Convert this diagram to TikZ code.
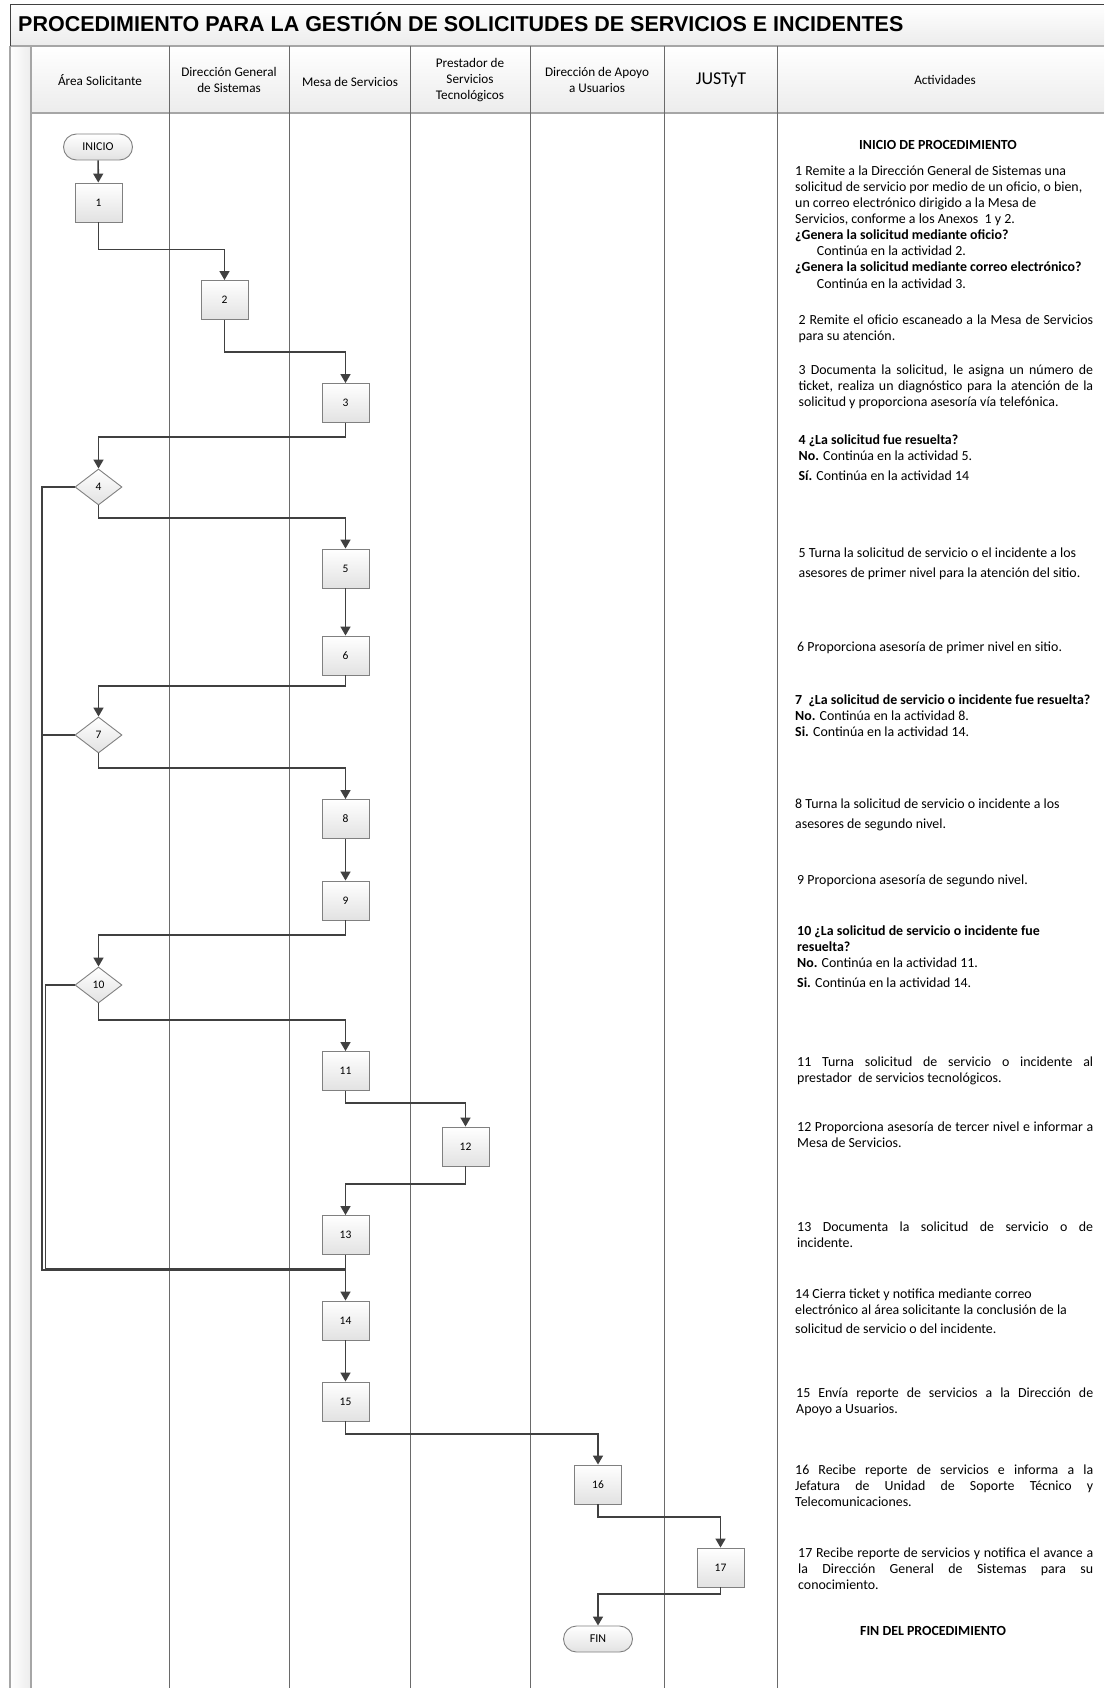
\documentclass[tikz,border=0pt]{standalone}
\usepackage{fontspec}
\setmainfont{Carlito}
\newfontfamily\titlefont{Liberation Sans}
\usetikzlibrary{arrows.meta,shapes.geometric}
\definecolor{conn}{HTML}{404040}
\definecolor{lanec}{HTML}{6A6A6A}
\definecolor{shapeb}{HTML}{808080}
\definecolor{shadeb}{HTML}{E2E2E2}
\definecolor{bandb}{HTML}{ECECEC}
\definecolor{edgeg}{HTML}{A6A6A6}
\newcommand\actline[4]{\node[actl] (#1) at (#2,#3) {#4};}
\newcommand\jline[5]{\node[actl] (#1) at (#2,#3) {\makebox[#4pt][s]{#5}};}
\begin{document}
\begin{tikzpicture}[x=1pt,y=-1pt,
  lane/.style={draw=lanec, line width=0.8pt},
  flow/.style={draw=conn, line width=1.6pt, -{Triangle[length=9pt,width=10pt]}},
  link/.style={draw=conn, line width=1.6pt},
  shapefill/.style={draw=shapeb, line width=0.9pt, top color=white, bottom color=shadeb},
  actbox/.style={rectangle, shapefill, minimum width=47pt, minimum height=39pt, inner sep=0pt, font=\fontsize{11.5}{12}\selectfont},
  decision/.style={diamond, shapefill, minimum width=47pt, minimum height=36pt, inner sep=0pt, font=\fontsize{11.5}{12}\selectfont},
  terminal/.style={rectangle, rounded corners=13pt, shapefill, minimum width=69pt, minimum height=26pt, inner sep=0pt, font=\fontsize{12}{13}\selectfont},
  actl/.style={anchor=base west, inner sep=0pt, font=\fontsize{13.9}{16}\selectfont},
  hdr/.style={align=center, inner sep=0pt, font=\fontsize{13.2}{16}\selectfont}
]
\useasboundingbox (0,0) rectangle (1104,1688);
\fill[white] (0,0) rectangle (1104,1688);
% title band
\path[top color=white, bottom color=bandb] (10,4.5) rectangle (1104,46);
% header band
\path[top color=white, bottom color=bandb] (31,46) rectangle (1104,113);
% left strip
\path[left color=white, right color=bandb] (10,46) rectangle (31,1688);
\draw[edgeg, line width=1.6pt] (10,46) -- (1104,46);
\draw[edgeg, line width=1.6pt] (31,113) -- (1104,113);
\draw[edgeg, line width=1.6pt] (10,46) -- (10,1688);
\draw[edgeg, line width=1.6pt] (31,46) -- (31,1688);
\draw[conn, line width=1pt] (10,46) -- (10,4.5) -- (1104,4.5);
% lanes
\foreach \xx in {169,289.5,410,530.5,664,777} \draw[lane] (\xx,46) -- (\xx,1688);

% title
\node[anchor=base west, inner sep=0pt, font=\titlefont\bfseries\fontsize{21.5}{24}\selectfont] (title) at (18,31.5) {PROCEDIMIENTO PARA LA GESTIÓN DE SOLICITUDES DE SERVICIOS E INCIDENTES};

% headers
\node[hdr] (h1) at (100,80) {Área Solicitante};
\node[hdr] (h2) at (229,80) {Dirección General\\de Sistemas};
\node[hdr] (h3) at (350,82) {Mesa de Servicios};
\node[hdr] (h4) at (470,80) {Prestador de\\Servicios\\Tecnológicos};
\node[hdr] (h5) at (597,80) {Dirección de Apoyo\\a Usuarios};
\node[hdr, font=\fontsize{18}{20}\selectfont] (h6) at (721,80) {JUSTyT};
\node[hdr] (h7) at (945,80) {Actividades};

% flow shapes
\node[terminal] (inicio) at (98,147) {INICIO};
\node[actbox] (b1) at (98.5,202.5) {1};
\node[actbox] (b2) at (224.5,300) {2};
\node[actbox] (b3) at (345.5,403) {3};
\node[decision] (d4) at (98.5,487) {4};
\node[actbox] (b5) at (345.5,568.5) {5};
\node[actbox] (b6) at (345.5,655.5) {6};
\node[decision] (d7) at (98.5,735) {7};
\node[actbox] (b8) at (345.5,819) {8};
\node[actbox] (b9) at (345.5,900.5) {9};
\node[decision] (d10) at (98.5,985) {10};
\node[actbox] (b11) at (345.5,1071) {11};
\node[actbox] (b12) at (465.5,1146.5) {12};
\node[actbox] (b13) at (345.5,1235) {13};
\node[actbox] (b14) at (345.5,1320.5) {14};
\node[actbox] (b15) at (345.5,1401.5) {15};
\node[actbox] (b16) at (598,1484.5) {16};
\node[actbox] (b17) at (720.5,1567.5) {17};
\node[terminal] (fin) at (598,1639) {FIN};

% bend heights
\coordinate (h12) at (0,249.5);
\coordinate (h23) at (0,352);
\coordinate (h34) at (0,437);
\coordinate (h45) at (0,518);
\coordinate (h67) at (0,686);
\coordinate (h78) at (0,768);
\coordinate (h910) at (0,935);
\coordinate (h1011) at (0,1020);
\coordinate (h1112) at (0,1103);
\coordinate (h1213) at (0,1184);
\coordinate (h1516) at (0,1434);
\coordinate (h1617) at (0,1517);
\coordinate (h17f) at (0,1594);
\coordinate (ya) at (42,1270);
\coordinate (yb) at (45.5,1269);

% connectors
\draw[link] (d4.west) -| (ya) -- (ya -| b14);
\draw[link] (d7.west) -- (d7.west -| ya);
\draw[link] (d10.west) -| (yb) -- (yb -| b14);
\draw[flow] (inicio) -- (b1);
\draw[flow] (b1.south) -- (b1.south |- h12) -| (b2.north);
\draw[flow] (b2.south) -- (b2.south |- h23) -| (b3.north);
\draw[flow] (b3.south) -- (b3.south |- h34) -| (d4.north);
\draw[flow] (d4.south) -- (d4.south |- h45) -| (b5.north);
\draw[flow] (b5) -- (b6);
\draw[flow] (b6.south) -- (b6.south |- h67) -| (d7.north);
\draw[flow] (d7.south) -- (d7.south |- h78) -| (b8.north);
\draw[flow] (b8) -- (b9);
\draw[flow] (b9.south) -- (b9.south |- h910) -| (d10.north);
\draw[flow] (d10.south) -- (d10.south |- h1011) -| (b11.north);
\draw[flow] (b11.south) -- (b11.south |- h1112) -| (b12.north);
\draw[flow] (b12.south) -- (b12.south |- h1213) -| (b13.north);
\draw[flow] (b13) -- (b14);
\draw[flow] (b14) -- (b15);
\draw[flow] (b15.south) -- (b15.south |- h1516) -| (b16.north);
\draw[flow] (b16.south) -- (b16.south |- h1617) -| (b17.north);
\draw[flow] (b17.south) -- (b17.south |- h17f) -| (fin.north);

% activities
\node[actl, anchor=base] (tini) at (938,150) {\textbf{INICIO DE PROCEDIMIENTO}};
\actline{a1a}{795}{176}{1 Remite a la Dirección General de Sistemas una}
\actline{a1b}{795}{192}{solicitud de servicio por medio de un oficio, o bien,}
\actline{a1c}{795}{208}{un correo electrónico dirigido a la Mesa de}
\actline{a1d}{795}{224}{Servicios, conforme a los Anexos\ \ 1 y 2.}
\actline{a1e}{795}{240}{\textbf{¿Genera la solicitud mediante oficio?}}
\actline{a1f}{816.7}{256}{Continúa en la actividad 2.}
\actline{a1g}{795}{272}{\textbf{¿Genera la solicitud mediante correo electrónico?}}
\actline{a1h}{816.7}{288}{Continúa en la actividad 3.}

\jline{a2a}{798.4}{324}{294.6}{2 Remite el oficio escaneado a la Mesa de Servicios}
\actline{a2b}{798.4}{340}{para su atención.}

\jline{a3a}{798.4}{374.5}{294.6}{3 Documenta la solicitud, le asigna un número de}
\jline{a3b}{798.4}{390.5}{294.6}{ticket, realiza un diagnóstico para la atención de la}
\actline{a3c}{798.4}{406.5}{solicitud y proporciona asesoría vía telefónica.}

\actline{a4a}{798.4}{444.5}{\textbf{4 ¿La solicitud fue resuelta?}}
\actline{a4b}{798.4}{460.5}{\textbf{No.} Continúa en la actividad 5.}
\actline{a4c}{798.4}{480}{\textbf{Sí.} Continúa en la actividad 14}

\actline{a5a}{798.4}{557.5}{5 Turna la solicitud de servicio o el incidente a los}
\actline{a5b}{798.4}{577}{asesores de primer nivel para la atención del sitio.}

\actline{a6a}{797}{651}{6 Proporciona asesoría de primer nivel en sitio.}

\actline{a7a}{795}{704}{\textbf{7\ \ ¿La solicitud de servicio o incidente fue resuelta?}}
\actline{a7b}{795}{720}{\textbf{No.} Continúa en la actividad 8.}
\actline{a7c}{795}{736}{\textbf{Si.} Continúa en la actividad 14.}

\actline{a8a}{795}{808}{8 Turna la solicitud de servicio o incidente a los}
\actline{a8b}{795}{828.5}{asesores de segundo nivel.}

\actline{a9a}{797}{884.5}{9 Proporciona asesoría de segundo nivel.}

\actline{a10a}{797}{935}{\textbf{10 ¿La solicitud de servicio o incidente fue}}
\actline{a10b}{797}{951}{\textbf{resuelta?}}
\actline{a10c}{797}{967.5}{\textbf{No.} Continúa en la actividad 11.}
\actline{a10d}{797}{987}{\textbf{Si.} Continúa en la actividad 14.}

\jline{a11a}{797}{1066.5}{296}{11 Turna solicitud de servicio o incidente al}
\actline{a11b}{797}{1082.5}{prestador\ \ de servicios tecnológicos.}

\jline{a12a}{797}{1131}{296}{12 Proporciona asesoría de tercer nivel e informar a}
\actline{a12b}{797}{1147}{Mesa de Servicios.}

\jline{a13a}{797}{1231}{296}{13 Documenta la solicitud de servicio o de}
\actline{a13b}{797}{1247}{incidente.}

\actline{a14a}{795}{1298}{14 Cierra ticket y notifica mediante correo}
\actline{a14b}{795}{1314}{electrónico al área solicitante la conclusión de la}
\actline{a14c}{795}{1333.5}{solicitud de servicio o del incidente.}

\jline{a15a}{796}{1397}{297}{15 Envía reporte de servicios a la Dirección de}
\actline{a15b}{796}{1413}{Apoyo a Usuarios.}

\jline{a16a}{795}{1474}{298}{16 Recibe reporte de servicios e informa a la}
\jline{a16b}{795}{1490.5}{298}{Jefatura de Unidad de Soporte Técnico y}
\actline{a16c}{795}{1506.5}{Telecomunicaciones.}

\jline{a17a}{798}{1557}{295}{17 Recibe reporte de servicios y notifica el avance a}
\jline{a17b}{798}{1573}{295}{la Dirección General de Sistemas para su}
\actline{a17c}{798}{1589.5}{conocimiento.}

\node[actl, anchor=base] (tfin) at (933,1635.5) {\textbf{FIN DEL PROCEDIMIENTO}};
\end{tikzpicture}
\end{document}
